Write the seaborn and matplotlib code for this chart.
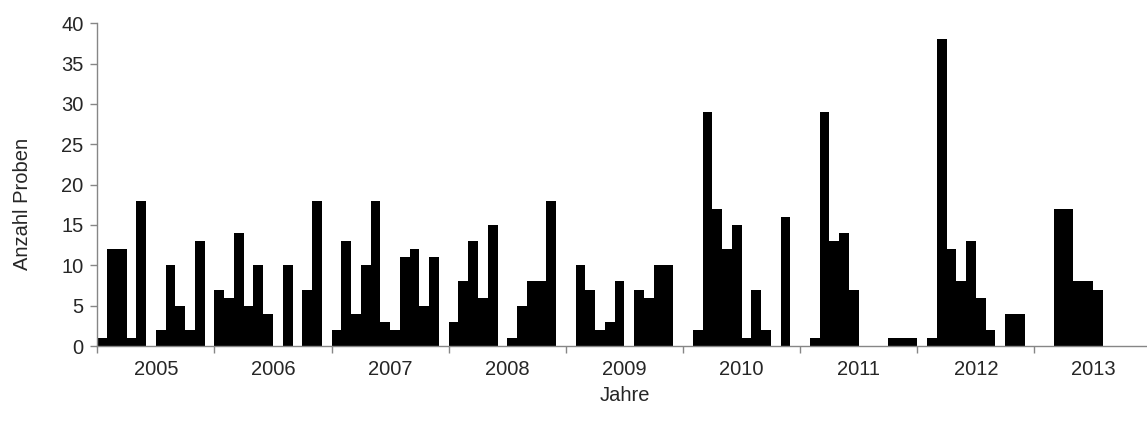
import pandas as pd
import seaborn as sns
import matplotlib.pyplot as plt
from matplotlib.ticker import FixedLocator

years = ['2005', '2006', '2007', '2008', '2009', '2010', '2011', '2012', '2013']
months = list(range(1, 13))

# samples per month, one list per year
v2005 = [1, 12, 12, 1, 18, 0, 2, 10, 5, 2, 13, 0]
v2006 = [7, 6, 14, 5, 10, 4, 0, 10, 0, 7, 18, 0]
v2007 = [2, 13, 4, 10, 18, 3, 2, 11, 12, 5, 11, 0]
v2008 = [3, 8, 13, 6, 15, 0, 1, 5, 8, 8, 18, 0]
v2009 = [0, 10, 7, 2, 3, 8, 0, 7, 6, 10, 10, 0]
v2010 = [0, 2, 29, 17, 12, 15, 1, 7, 2, 0, 16, 0]
v2011 = [0, 1, 29, 13, 14, 7, 0, 0, 0, 1, 1, 1]
v2012 = [0, 1, 38, 12, 8, 13, 6, 2, 0, 4, 4, 0]
v2013 = [0, 0, 17, 17, 8, 8, 7, 0, 0, 0, 0, 0]

values = v2005 + v2006 + v2007 + v2008 + v2009 + v2010 + v2011 + v2012 + v2013
df = pd.DataFrame({
    'idx': range(len(values)),
    'year': [y for y in years for m in months],
    'month': months * len(years),
    'count': values,
})

sns.set_style('white')
plt.rcParams['font.family'] = ['Liberation Sans', 'DejaVu Sans']
fs = 14.5

fig = plt.figure(figsize=(11.47, 4.21), dpi=100)
ax = fig.add_axes([0.0848, 0.178, 0.9192, 0.767])
sns.barplot(x='idx', y='count', data=df, color='black', width=1.0,
            linewidth=0, saturation=1, native_scale=True, ax=ax)

grey = '#868686'
ax.set_xlim(-0.5, len(values) - 0.5)
ax.set_ylim(0, 40)
ax.set_yticks(range(0, 41, 5))

ax.xaxis.set_major_locator(FixedLocator([-0.5 + 12 * i for i in range(len(years) + 1)]))
ax.xaxis.set_minor_locator(FixedLocator([5.5 + 12 * i for i in range(len(years))]))
ax.set_xticklabels([])
ax.set_xticklabels(years, minor=True)
ax.tick_params(axis='x', which='major', direction='out', length=5, color=grey, width=1, bottom=True)
ax.tick_params(axis='x', which='minor', length=0, pad=10, labelsize=fs, bottom=True)
ax.tick_params(axis='y', direction='out', length=5, color=grey, width=1, left=True, labelsize=fs, pad=5)

for s in ['top', 'right']:
    ax.spines[s].set_visible(False)
for s in ['left', 'bottom']:
    ax.spines[s].set_color(grey)
    ax.spines[s].set_linewidth(1)

ax.set_xlabel('Jahre', fontsize=fs, labelpad=5)
ax.set_ylabel('Anzahl Proben', fontsize=fs)
ax.yaxis.set_label_coords(-0.062, 0.44)

fig.savefig('out.png', dpi=100)
